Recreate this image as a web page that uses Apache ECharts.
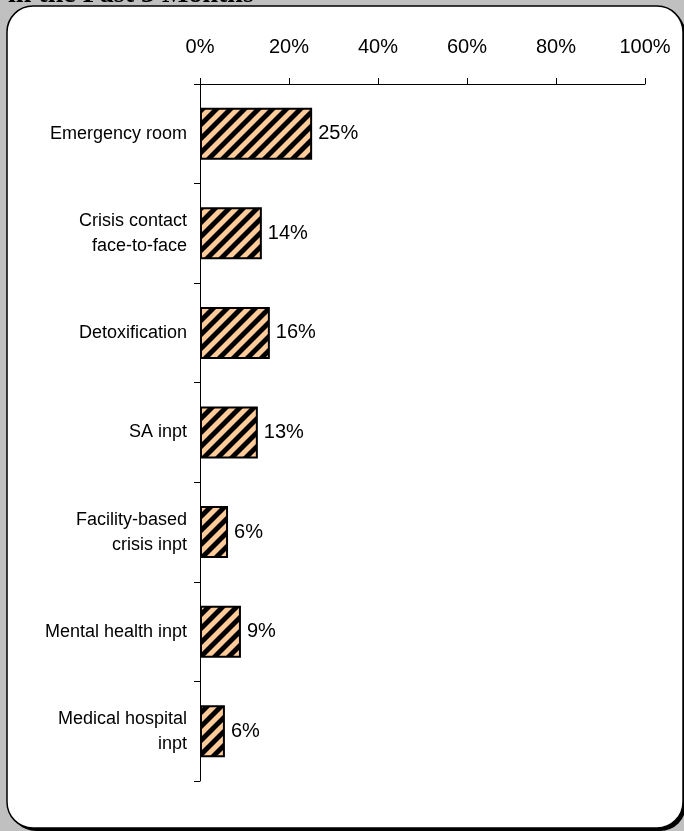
<!DOCTYPE html>
<html><head><meta charset="utf-8">
<script src="https://cdn.jsdelivr.net/npm/echarts@6/dist/echarts.min.js"></script>
<style>html,body{margin:0;padding:0;background:#c0c0c0;}#c{width:684px;height:831px;}</style>
</head><body><div id="c"></div>
<script>
var categories = ['Emergency room', 'Crisis contact\nface-to-face', 'Detoxification', 'SA inpt', 'Facility-based\ncrisis inpt', 'Mental health inpt', 'Medical hospital\ninpt'];
var values = [25.2, 13.9, 15.7, 13.0, 6.3, 9.2, 5.6];
var tickLabels = ['0%', '20%', '40%', '60%', '80%', '100%'];

function hatch() {
  var s = 14, w = 6;
  var c = document.createElement('canvas');
  c.width = s; c.height = s;
  var g = c.getContext('2d');
  var img = g.createImageData(s, s);
  for (var y = 0; y < s; y++) {
    for (var x = 0; x < s; x++) {
      var d = (x + y) % s;
      var i = (y * s + x) * 4;
      var dark = d < w;
      var edge = (d === w || d === s - 1);
      var r = dark ? 0 : 255, gg = dark ? 0 : 204, b = dark ? 0 : 153;
      if (edge) { r = 128; gg = 102; b = 76; }
      img.data[i] = r; img.data[i + 1] = gg; img.data[i + 2] = b; img.data[i + 3] = 255;
    }
  }
  g.putImageData(img, 0, 0);
  return c;
}

var chart = echarts.init(document.getElementById('c'), null, {renderer: 'canvas'});
chart.setOption({
  backgroundColor: '#c0c0c0',
  animation: false,
  graphic: [
    {type: 'rect', z: -2, shape: {x: 10, y: 9, width: 676, height: 822, r: 26}, style: {fill: '#000'}},
    {type: 'rect', z: -1, shape: {x: 7, y: 6, width: 676, height: 822, r: 26}, style: {fill: '#fff', stroke: '#000', lineWidth: 1.5}},
    {type: 'text', z: 5, style: {x: 8, y: -5, verticalAlign: 'middle', text: 'in the Past 3 Months', font: 'bold 28px "Liberation Serif", "Times New Roman", serif', fill: '#000'}}
  ],
  grid: {left: 200, right: 39, top: 84, bottom: 50, containLabel: false},
  xAxis: {
    type: 'value', position: 'top', min: 0, max: 100, interval: 20,
    axisLine: {show: true, lineStyle: {color: '#000', width: 1}},
    axisTick: {show: true, length: 6, lineStyle: {color: '#000'}},
    splitLine: {show: false},
    axisLabel: {
      margin: 27, color: '#000', fontSize: 20, fontFamily: 'Liberation Sans, Arial, sans-serif',
      formatter: function (v) { return tickLabels[Math.round(v / 20)]; }
    }
  },
  yAxis: {
    type: 'category', data: categories, inverse: true,
    axisLine: {show: true, lineStyle: {color: '#000', width: 1}},
    axisTick: {show: true, length: 6, lineStyle: {color: '#000'}},
    axisLabel: {margin: 13, color: '#000', fontSize: 18, lineHeight: 25, align: 'right', padding: [4, 0, 0, 0], fontFamily: 'Liberation Sans, Arial, sans-serif'}
  },
  series: [{
    type: 'bar', data: values, barWidth: 52,
    itemStyle: {color: {image: hatch(), repeat: 'repeat'}, borderColor: '#000', borderWidth: 2},
    label: {
      show: true, position: 'right', distance: 6, color: '#000', fontSize: 20,
      fontFamily: 'Liberation Sans, Arial, sans-serif',
      formatter: function (p) { return Math.round(p.value) + '%'; }
    }
  }]
});
</script></body></html>
